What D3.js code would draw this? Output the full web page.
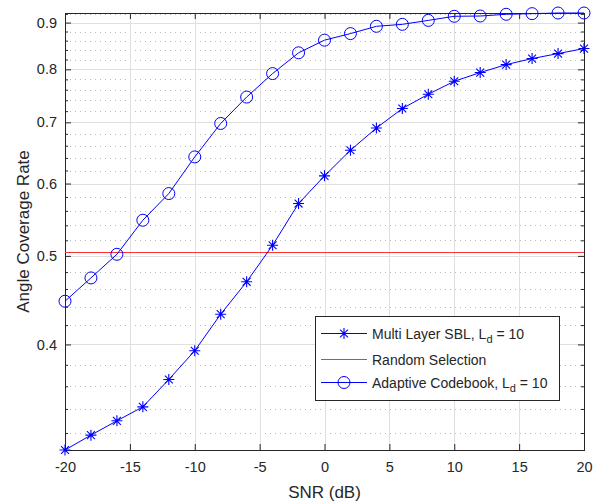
<!DOCTYPE html>
<html>
<head>
<meta charset="utf-8">
<script src="https://cdn.jsdelivr.net/npm/d3@7"></script>
<style>
  body { margin: 0; background: #fff; }
  text { font-family: "Liberation Sans", Arial, sans-serif; fill: #262626; }
</style>
</head>
<body>
<div id="chart"></div>
<script>
// data
var snr = [-20, -18, -16, -14, -12, -10, -8, -6, -4, -2, 0, 2, 4, 6, 8, 10, 12, 14, 16, 18, 20];
var multiLayerSBL = [0.3066, 0.3183, 0.330, 0.3418, 0.3662, 0.3937, 0.4317, 0.4684, 0.5136, 0.5705, 0.6117,
  0.6525, 0.690, 0.7248, 0.7513, 0.7763, 0.7935, 0.8096, 0.822, 0.8324, 0.843];
var adaptiveCodebook = [0.446, 0.473, 0.502, 0.547, 0.585, 0.6416, 0.698, 0.746, 0.7915, 0.834, 0.861,
  0.8754, 0.8916, 0.896, 0.905, 0.9144, 0.915, 0.919, 0.9205, 0.922, 0.922];
var randomSelection = 0.5043;

var xTicks = [-20, -15, -10, -5, 0, 5, 10, 15, 20];
var yTicks = [0.4, 0.5, 0.6, 0.7, 0.8, 0.9];
var yMinorTicks = d3.range(0.32, 0.921, 0.02).map(d => +d.toFixed(2)).filter(d => yTicks.indexOf(d) < 0);

var svgWidth = 600;
var svgHeight = 502;
var margin = { top: 13, right: 16, bottom: 52, left: 65 };
var width = svgWidth - margin.left - margin.right;
var height = svgHeight - margin.top - margin.bottom;

var svg = d3.select("#chart")
  .append("svg")
  .attr("width", svgWidth)
  .attr("height", svgHeight);

var chartGroup = svg.append("g")
  .attr("transform", `translate(${margin.left}, ${margin.top})`);

var xScale = d3.scaleLinear()
  .domain([-20, 20])
  .range([0, width]);

var yScale = d3.scaleLog()
  .domain(d3.extent(multiLayerSBL.concat(adaptiveCodebook)))
  .range([height, 0]);

// minor grid (dotted)
chartGroup.append("g").selectAll("line")
  .data(yMinorTicks)
  .enter()
  .append("line")
  .attr("x1", 0)
  .attr("x2", width)
  .attr("y1", d => Math.round(yScale(d)) + 0.5)
  .attr("y2", d => Math.round(yScale(d)) + 0.5)
  .attr("stroke", "#b8b8b8")
  .attr("stroke-dasharray", "1,4");

// major grid
chartGroup.append("g").selectAll("line")
  .data(yTicks)
  .enter()
  .append("line")
  .attr("x1", 0)
  .attr("x2", width)
  .attr("y1", d => Math.round(yScale(d)) + 0.5)
  .attr("y2", d => Math.round(yScale(d)) + 0.5)
  .attr("stroke", "#dfdfdf");

chartGroup.append("g").selectAll("line")
  .data(xTicks.slice(1, -1))
  .enter()
  .append("line")
  .attr("x1", d => Math.round(xScale(d)) + 0.5)
  .attr("x2", d => Math.round(xScale(d)) + 0.5)
  .attr("y1", 0)
  .attr("y2", height)
  .attr("stroke", "#dfdfdf");

// axes (ticks pointing inward, like MATLAB)
var bottomAxis = d3.axisBottom(xScale).tickValues(xTicks).tickSize(-6).tickPadding(12).tickFormat(d => String(d));
var topAxis = d3.axisTop(xScale).tickValues(xTicks).tickSize(-6).tickFormat("");
var leftAxis = d3.axisLeft(yScale).tickValues(yTicks).tickSize(-6).tickPadding(8).tickFormat(d3.format(".1f"));
var rightAxis = d3.axisRight(yScale).tickValues(yTicks).tickSize(-6).tickFormat("");
var leftMinor = d3.axisLeft(yScale).tickValues(yMinorTicks).tickSize(-3).tickFormat("");
var rightMinor = d3.axisRight(yScale).tickValues(yMinorTicks).tickSize(-3).tickFormat("");

function styleAxis(g) {
  g.select(".domain").remove();
  g.selectAll("line").attr("stroke", "#262626");
  g.selectAll("text")
    .style("font-size", "14.5px")
    .style("font-family", "'Liberation Sans', Arial, sans-serif")
    .attr("fill", "#262626");
}

chartGroup.append("g").attr("transform", `translate(0, ${height})`).call(bottomAxis).call(styleAxis);
chartGroup.append("g").call(topAxis).call(styleAxis);
chartGroup.append("g").call(leftAxis).call(styleAxis);
chartGroup.append("g").attr("transform", `translate(${width}, 0)`).call(rightAxis).call(styleAxis);
chartGroup.append("g").call(leftMinor).call(styleAxis);
chartGroup.append("g").attr("transform", `translate(${width}, 0)`).call(rightMinor).call(styleAxis);

// box
chartGroup.append("rect")
  .attr("x", 0.5)
  .attr("y", 0.5)
  .attr("width", width)
  .attr("height", height)
  .attr("fill", "none")
  .attr("stroke", "#262626");

// random selection line
chartGroup.append("line")
  .attr("x1", xScale(-20))
  .attr("x2", xScale(20))
  .attr("y1", yScale(randomSelection))
  .attr("y2", yScale(randomSelection))
  .attr("stroke", "#ff3333")
  .attr("stroke-width", 1.2);

var line = d3.line()
  .x((d, i) => xScale(snr[i]))
  .y(d => yScale(d));

chartGroup.append("path")
  .datum(multiLayerSBL)
  .attr("d", line)
  .attr("fill", "none")
  .attr("stroke", "#0000ff")
  .attr("stroke-width", 1);

chartGroup.append("path")
  .datum(adaptiveCodebook)
  .attr("d", line)
  .attr("fill", "none")
  .attr("stroke", "#0000ff")
  .attr("stroke-width", 1);

// asterisk marker path
function starPath(cx, cy, r) {
  var d = `M${cx - r},${cy}L${cx + r},${cy}M${cx},${cy - r}L${cx},${cy + r}`;
  var a = r * 0.72;
  d += `M${cx - a},${cy - a}L${cx + a},${cy + a}M${cx - a},${cy + a}L${cx + a},${cy - a}`;
  return d;
}

chartGroup.append("g").selectAll("path")
  .data(multiLayerSBL)
  .enter()
  .append("path")
  .attr("d", (d, i) => starPath(xScale(snr[i]), yScale(d), 5.5))
  .attr("stroke", "#0000ff")
  .attr("stroke-width", 1.1)
  .attr("fill", "none");

chartGroup.append("g").selectAll("circle")
  .data(adaptiveCodebook)
  .enter()
  .append("circle")
  .attr("cx", (d, i) => xScale(snr[i]))
  .attr("cy", d => yScale(d))
  .attr("r", 6)
  .attr("fill", "none")
  .attr("stroke", "#0000ff")
  .attr("stroke-width", 1);

// axis labels
svg.append("text")
  .attr("x", margin.left + width / 2)
  .attr("y", 498)
  .attr("text-anchor", "middle")
  .style("font-size", "17px")
  .text("SNR (dB)");

svg.append("text")
  .attr("transform", `translate(29, ${margin.top + height / 2}) rotate(-90)`)
  .attr("text-anchor", "middle")
  .style("font-size", "17px")
  .text("Angle Coverage Rate");

// legend
var legend = svg.append("g").attr("transform", "translate(315, 316)");
legend.append("rect")
  .attr("x", 0.5)
  .attr("y", 0.5)
  .attr("width", 244)
  .attr("height", 84)
  .attr("fill", "#fff")
  .attr("stroke", "#262626");

var legendRows = [
  { name: "Multi Layer SBL, L", sub: "d", tail: " = 10", color: "#0000ff", marker: "star", y: 17.5 },
  { name: "Random Selection", sub: null, tail: "", color: "#ff3333", marker: null, y: 43.5 },
  { name: "Adaptive Codebook, L", sub: "d", tail: " = 10", color: "#0000ff", marker: "circle", y: 66.5 }
];

legendRows.forEach(function(row) {
  legend.append("line")
    .attr("x1", 6)
    .attr("x2", 52)
    .attr("y1", row.y)
    .attr("y2", row.y)
    .attr("stroke", row.color)
    .attr("stroke-width", row.marker ? 1 : 1.2);
  if (row.marker === "star") {
    legend.append("path")
      .attr("d", starPath(29, row.y, 5.5))
      .attr("stroke", row.color)
      .attr("stroke-width", 1.1);
  } else if (row.marker === "circle") {
    legend.append("circle")
      .attr("cx", 29)
      .attr("cy", row.y)
      .attr("r", 6)
      .attr("fill", "none")
      .attr("stroke", row.color);
  }
  var t = legend.append("text")
    .attr("x", 57)
    .attr("y", row.y + 5)
    .style("font-size", "14px")
    .text(row.name);
  if (row.sub) {
    t.append("tspan").attr("dy", 4).style("font-size", "11px").text(row.sub);
    t.append("tspan").attr("dy", -4).text(row.tail);
  }
});
</script>
</body>
</html>
